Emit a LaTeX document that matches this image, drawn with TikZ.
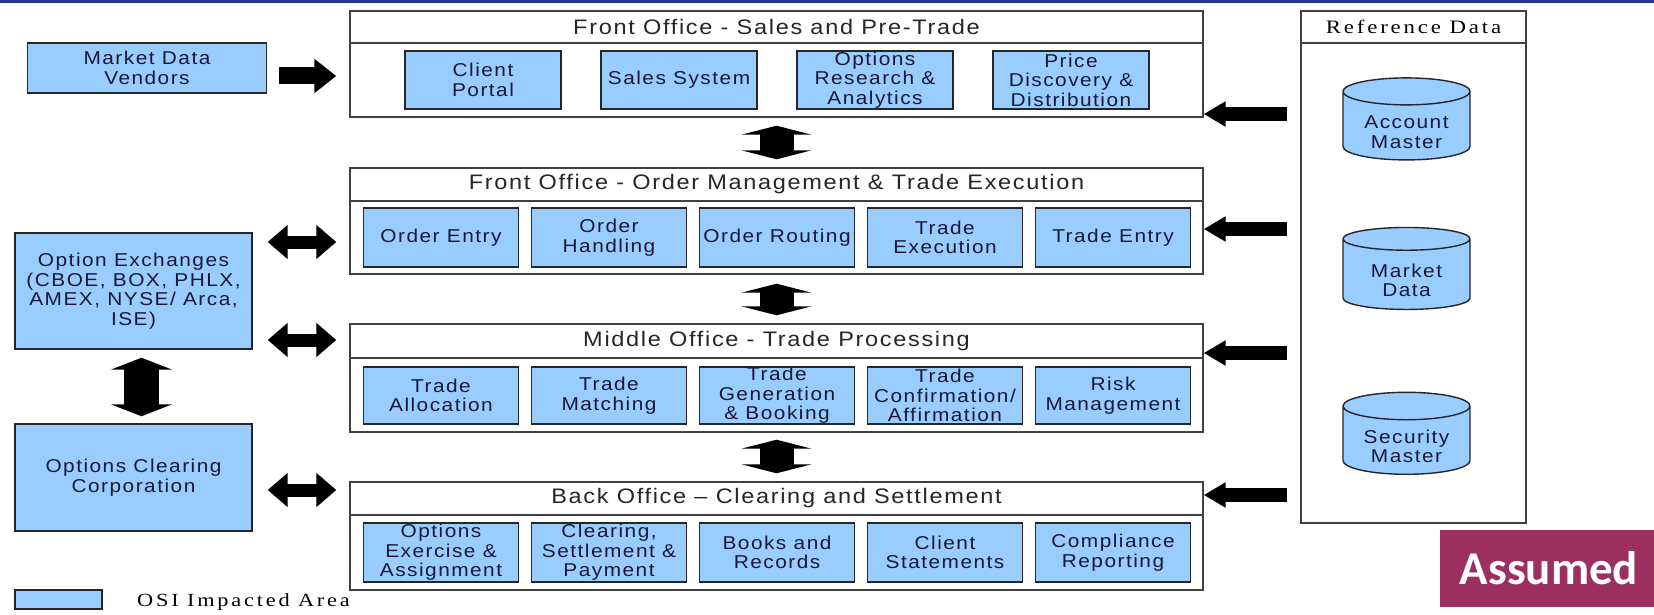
\documentclass[tikz,border=0pt]{standalone}
\usepackage{fontspec}
\setmainfont{Liberation Sans}[FakeStretch=1.12,LetterSpace=8]
\newfontfamily\refserif{Liberation Serif}[FakeStretch=1.2,LetterSpace=15]
\newfontfamily\badgefont{Carlito}
\usetikzlibrary{arrows.meta,shapes.geometric}
\definecolor{osiblue}{RGB}{153,204,255}
\definecolor{topnavy}{RGB}{35,55,140}
\definecolor{badgeplum}{RGB}{155,48,96}
\definecolor{boxtext}{RGB}{25,25,55}
\newcommand{\cyltext}[2]{\raisebox{-13pt}[0pt][0pt]{\begin{tabular}{@{}c@{}}#1\\#2\end{tabular}}}
\tikzset{
  osibox/.style={draw=black!85, line width=1.4pt, fill=osiblue, align=center, inner sep=0pt,
    font=\fontsize{18.6}{19.5}\selectfont, text=boxtext},
  officebox/.style={draw=black!75, line width=1.4pt, fill=white, inner sep=0pt, minimum width=853pt},
  officetitle/.style={font=\fontsize{21}{22}\selectfont, text=black!85},
  dbcyl/.style={cylinder, shape border rotate=90, aspect=0.32, draw=black!85, line width=1.4pt,
    fill=osiblue, align=center, inner sep=0pt, minimum width=127pt, minimum height=82pt,
    font=\fontsize{18.6}{19.5}\selectfont, text=boxtext},
  feedarrow/.style={line width=17pt, -{Triangle[length=22pt,width=33pt]}},
  refarrow/.style={line width=14pt, -{Triangle[length=22pt,width=24pt]}},
  linkarrow/.style={line width=13pt, {Triangle[length=20pt,width=33pt]}-{Triangle[length=20pt,width=33pt]}},
  flowarrow/.style={line width=34pt, {Triangle[length=9pt,width=70pt]}-{Triangle[length=9pt,width=70pt]}},
  ccparrow/.style={line width=35pt, {Triangle[length=12pt,width=61pt]}-{Triangle[length=12pt,width=61pt]}}
}
\begin{document}
\begin{tikzpicture}[x=1pt,y=-1pt]
  \useasboundingbox (0,0) rectangle (1654,615);
  \fill [white] (0,0) rectangle (1654,615);%
  % Top rule
  \fill [topnavy] (0,0) rectangle (1654,3);%

  % Outside parties
  \node [osibox, minimum width=239pt, minimum height=50pt] (mdv) at (147,68) {Market Data\\Vendors};%
  \node [osibox, minimum width=237pt, minimum height=116pt] (oe) at (133.5,291) {Option Exchanges\\(CBOE, BOX, PHLX,\\AMEX, NYSE/ Arca,\\ISE)};%
  \node [osibox, minimum width=237pt, minimum height=107pt] (occ) at (133.5,477.5) {Options Clearing\\Corporation};%

  % Front office - sales
  \node [officebox, minimum height=106pt] (fo1) at (776.5,64) {};%
  \draw [draw=black!75, line width=1.4pt] (fo1.west |- 0,43) -- (fo1.east |- 0,43);%
  \node [officetitle] (fo1t) at (776.5,27) {Front Office - Sales and Pre-Trade};%
  \node [osibox, minimum width=156pt, minimum height=58pt] (cp) at (483,80) {Client\\Portal};%
  \node [osibox, minimum width=156pt, minimum height=58pt] (ss) at (679,80) {Sales System};%
  \node [osibox, minimum width=156pt, minimum height=58pt] (ora) at (875,80) {Options\\Research \&\\Analytics};%
  \node [osibox, minimum width=156pt, minimum height=58pt] (pdd) at (1071,80) {Price\\Discovery \&\\Distribution};%

  % Front office - orders
  \node [officebox, minimum height=106pt] (fo2) at (776.5,221) {};%
  \draw [draw=black!75, line width=1.4pt] (fo2.west |- 0,201) -- (fo2.east |- 0,201);%
  \node [officetitle] (fo2t) at (776.5,184.5) {Front Office - Order Management \& Trade Execution};%
  \node [osibox, minimum width=155pt, minimum height=59pt] (oent) at (441,237.5) {Order Entry};%
  \node [osibox, minimum width=155pt, minimum height=59pt] (ohan) at (609,237.5) {Order\\Handling};%
  \node [osibox, minimum width=155pt, minimum height=59pt] (orou) at (777,237.5) {Order Routing};%
  \node [osibox, minimum width=155pt, minimum height=59pt] (texe) at (945,237.5) {Trade\\Execution};%
  \node [osibox, minimum width=155pt, minimum height=59pt] (tent) at (1113,237.5) {Trade Entry};%

  % Middle office
  \node [officebox, minimum height=108pt] (mo) at (776.5,378) {};%
  \draw [draw=black!75, line width=1.4pt] (mo.west |- 0,358) -- (mo.east |- 0,358);%
  \node [officetitle] (mot) at (776.5,341) {Middle Office - Trade Processing};%
  \node [osibox, minimum width=155pt, minimum height=57pt] (tall) at (441,395.5) {Trade\\Allocation};%
  \node [osibox, minimum width=155pt, minimum height=57pt] (tmat) at (609,395.5) {Trade\\Matching};%
  \node [osibox, minimum width=155pt, minimum height=57pt] (tgen) at (777,395.5) {Trade\\Generation\\\& Booking};%
  \node [osibox, minimum width=155pt, minimum height=57pt] (tcon) at (945,395.5) {Trade\\Confirmation/\\Affirmation};%
  \node [osibox, minimum width=155pt, minimum height=57pt] (risk) at (1113,395.5) {Risk\\Management};%

  % Back office
  \node [officebox, minimum height=108pt] (bo) at (776.5,536) {};%
  \draw [draw=black!75, line width=1.4pt] (bo.west |- 0,515) -- (bo.east |- 0,515);%
  \node [officetitle] (bot) at (776.5,498.5) {Back Office -- Clearing and Settlement};%
  \node [osibox, minimum width=155pt, minimum height=59pt] (oexa) at (441,552.5) {Options\\Exercise \&\\Assignment};%
  \node [osibox, minimum width=155pt, minimum height=59pt] (csp) at (609,552.5) {Clearing,\\Settlement \&\\Payment};%
  \node [osibox, minimum width=155pt, minimum height=59pt] (bnr) at (777,552.5) {Books and\\Records};%
  \node [osibox, minimum width=155pt, minimum height=59pt] (cst) at (945,552.5) {Client\\Statements};%
  \node [osibox, minimum width=155pt, minimum height=59pt] (crep) at (1113,552.5) {Compliance\\Reporting};%

  % Reference data
  \node [draw=black!75, line width=1.4pt, minimum width=225pt, minimum height=512pt, inner sep=0pt] (ref) at (1413.5,267) {};%
  \draw [draw=black!75, line width=1.4pt] (ref.west |- 0,43) -- (ref.east |- 0,43);%
  \node [font=\refserif\fontsize{19}{20}\selectfont] (reft) at (1413.5,27) {Reference Data};%
  \node [dbcyl] (acc) at (1406.5,126) {\cyltext{Account}{Master}};%
  \node [dbcyl] (mkt) at (1406.5,274.5) {\cyltext{Market}{Data}};%
  \node [dbcyl] (sec) at (1406.5,440.5) {\cyltext{Security}{Master}};%

  % Arrows
  \draw [feedarrow] ([xshift=12pt]mdv.east |- 0,76) -- ([xshift=-13pt]fo1.west |- 0,76);%
  \draw [linkarrow] ([xshift=15pt]oe.east |- 0,242) -- ([xshift=-13pt]fo2.west |- 0,242);%
  \draw [linkarrow] ([xshift=15pt]oe.east |- 0,340) -- ([xshift=-13pt]mo.west |- 0,340);%
  \draw [linkarrow] ([xshift=15pt]occ.east |- 0,490) -- ([xshift=-13pt]bo.west |- 0,490);%
  \draw [ccparrow] ([xshift=8pt,yshift=-8pt]oe.south) -- ([xshift=8pt,yshift=7pt]occ.north);%
  \draw [flowarrow] ([yshift=-8pt]fo1.south) -- ([yshift=8pt]fo2.north);%
  \draw [flowarrow] ([yshift=-9pt]fo2.south) -- ([yshift=8pt]mo.north);%
  \draw [flowarrow] ([yshift=-7pt]mo.south) -- ([yshift=8pt]bo.north);%
  \draw [refarrow] ([xshift=-13pt]ref.west |- 0,114) -- (fo1.east |- 0,114);%
  \draw [refarrow] ([xshift=-13pt]ref.west |- 0,229) -- (fo2.east |- 0,229);%
  \draw [refarrow] ([xshift=-13pt]ref.west |- 0,353) -- (mo.east |- 0,353);%
  \draw [refarrow] ([xshift=-13pt]ref.west |- 0,495) -- (bo.east |- 0,495);%

  % Legend
  \node [draw=black!85, line width=1.4pt, fill=osiblue, minimum width=87pt, minimum height=19pt, inner sep=0pt] (key) at (58.5,599.5) {};%
  \node [anchor=west, inner sep=0pt, font=\refserif\fontsize{18.6}{19}\selectfont] (keyt) at (137,602) {OSI Impacted Area};%

  % Badge
  \fill [badgeplum] (1440,530) rectangle (1654,607);%
  \node [text=white, font=\badgefont\bfseries\fontsize{47}{50}\selectfont] (badge) at (1549,568.5) {Assumed};%
\end{tikzpicture}
\end{document}
